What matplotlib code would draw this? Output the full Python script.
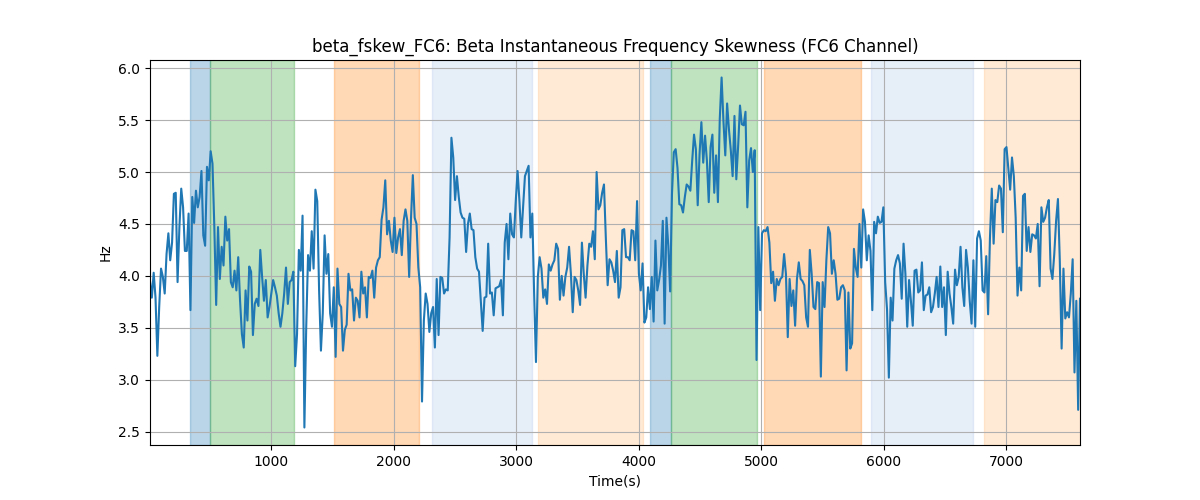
import numpy as np
import matplotlib
matplotlib.use("Agg")
import matplotlib.pyplot as plt

# valores, por tramos
seg1 = [3.95, 3.79, 4.03, 3.79, 3.23, 3.70, 4.07, 3.99, 3.83, 4.21, 4.41, 4.15, 4.32, 4.79, 4.80, 3.94,
        4.47, 4.84, 4.66, 4.24, 4.24, 4.60, 3.67, 4.76, 4.51, 4.82, 4.66, 4.76, 5.01, 4.39, 4.29, 5.05,
        4.92, 5.20, 5.08, 4.47, 3.72, 4.47, 3.97, 4.28, 4.10, 4.57, 4.34, 4.45, 3.94, 3.89, 4.05, 3.86,
        4.18, 3.76, 3.44, 3.31, 3.86, 3.57, 4.09, 4.04, 3.43, 3.73, 3.78, 3.71, 4.25, 3.99, 3.76, 3.96,
        3.60, 3.70, 3.83, 3.96, 3.89, 3.81, 3.64, 3.51]
seg2 = [3.64, 3.83, 4.08, 3.73, 3.94, 3.96, 4.04, 3.13, 3.44, 4.25, 4.05, 4.58, 2.54, 3.51, 4.20, 4.05,
        4.43, 4.07, 4.83, 4.72, 3.86, 3.28, 3.64, 4.39, 4.02, 4.21, 3.64, 3.51, 3.89, 3.22, 4.07, 3.73,
        3.70, 3.28, 3.48, 3.53, 4.02, 3.86, 3.87, 3.57, 3.79, 3.76, 3.60, 4.04, 3.83, 3.89, 3.60, 3.99,
        3.98, 4.05, 3.79, 4.08, 4.15, 4.18, 4.54, 4.66, 4.92, 4.40, 4.53, 4.34, 4.23, 4.56, 4.22, 4.37,
        4.45, 4.20, 4.53, 4.64, 4.53, 3.99, 4.55, 4.97, 4.56]
seg3 = [4.50, 4.08, 3.89, 2.79, 3.57, 3.83, 3.73, 3.46, 3.64, 3.70, 3.31, 3.97, 3.43, 3.99, 3.98, 3.83,
        3.87, 3.86, 4.37, 5.33, 5.14, 4.73, 4.96, 4.76, 4.61, 4.56, 4.55, 4.23, 4.50, 4.60, 4.45, 4.44,
        4.18, 4.07, 4.04, 3.76, 3.47, 3.79, 3.80, 4.31, 3.83, 3.84, 3.62, 3.88, 3.89, 3.90, 3.96, 3.62,
        4.32, 4.50, 4.16, 4.60, 4.40, 4.37, 4.72, 5.01, 4.72, 4.37, 4.66, 4.96, 5.01, 5.06, 4.37, 4.60,
        3.83, 3.17, 3.99, 4.18, 4.07, 3.79, 3.87, 3.73]
seg4 = [4.11, 4.05, 4.11, 4.15, 4.31, 4.26, 3.77, 4.00, 3.81, 3.99, 4.08, 4.28, 4.02, 3.65, 3.99, 3.96,
        3.86, 3.72, 4.32, 4.02, 3.79, 4.10, 4.31, 4.28, 4.43, 4.16, 5.00, 4.64, 4.68, 4.80, 4.88, 4.37,
        3.91, 4.16, 4.13, 4.05, 3.94, 4.24, 3.79, 3.89, 4.44, 4.45, 4.18, 4.18, 4.15, 4.44, 4.43, 4.15,
        4.72, 4.02, 3.86, 4.12, 3.55, 3.60, 3.89, 3.68, 3.99, 3.56, 4.34, 3.86, 3.96, 4.10, 4.53, 3.54,
        4.56, 4.29, 3.85, 4.79, 5.19, 5.22, 5.04, 4.69, 4.68, 4.61]
seg5 = [4.76, 4.88, 4.86, 4.82, 5.11, 5.36, 5.22, 4.68, 5.17, 5.48, 5.09, 5.35, 5.11, 4.71, 5.24, 5.36,
        4.80, 5.16, 4.71, 5.51, 5.91, 5.49, 5.16, 5.66, 5.41, 5.21, 4.96, 5.54, 4.93, 5.25, 5.64, 5.46,
        5.45, 5.58, 4.66, 5.11, 5.23, 5.00, 5.21, 3.19, 4.47, 3.67, 4.41, 4.44, 4.43, 4.47, 4.32, 3.93,
        4.04, 3.76, 3.97, 3.91, 3.97, 3.99, 4.21, 4.02, 3.41, 3.97, 3.71, 3.86, 3.52, 3.97, 4.13, 3.97,
        3.95, 3.91, 3.60, 3.51, 4.25, 4.02, 3.70]
seg6 = [3.68, 3.94, 3.93, 3.03, 3.94, 3.70, 4.15, 4.47, 4.41, 4.02, 4.15, 4.02, 3.77, 3.78, 3.89, 3.91,
        3.86, 3.09, 3.84, 3.30, 3.35, 4.26, 4.08, 3.99, 4.50, 4.08, 4.64, 4.52, 4.15, 4.39, 4.24, 3.67,
        4.52, 4.41, 4.57, 4.51, 4.52, 4.66, 3.94, 3.68, 3.02, 3.79, 3.57, 4.07, 4.15, 4.20, 4.12, 3.78,
        4.31, 4.02, 3.51, 3.96, 3.76, 3.52, 4.05, 4.06, 3.84, 3.86, 4.13, 3.67, 3.81, 3.82, 3.89, 3.65,
        3.70, 3.83, 3.99, 3.70, 4.09, 3.70, 3.89, 3.43, 4.04]
seg7 = [3.83, 3.70, 3.54, 4.06, 3.91, 3.99, 4.28, 3.89, 3.71, 4.25, 4.08, 3.76, 3.54, 4.15, 3.51, 4.36,
        4.43, 4.34, 3.86, 3.84, 4.19, 3.63, 4.36, 4.84, 4.31, 4.73, 4.71, 4.87, 4.84, 4.42, 5.22, 5.24,
        5.03, 4.83, 5.14, 4.96, 4.56, 3.81, 4.08, 3.86, 4.77, 4.79, 4.24, 4.47, 4.23, 4.40, 4.39, 4.36,
        4.50, 3.90, 4.66, 4.52, 4.56, 4.66, 4.73, 4.07, 3.97, 4.21, 4.53, 4.74, 4.15, 3.30, 4.07, 3.59,
        3.65, 3.60, 3.83, 4.16, 3.07, 3.76, 2.71, 3.78]

valores = np.array(seg1 + seg2 + seg3 + seg4 + seg5 + seg6 + seg7)
t_inicio = 12
t_paso = 15
tiempo = t_inicio + t_paso * np.arange(len(valores))

# intervalos sombreados (inicio, fin, color)
span_inicio = [339, 502, 1514, 2314, 3177, 4094, 4260, 5027, 5898, 6815]
span_fin = [502, 1185, 2205, 3128, 4034, 4260, 4965, 5814, 6728, 7620]
span_color = ["tab:blue", "tab:green", "tab:orange", "#aec7e8", "#ffbb78",
              "tab:blue", "tab:green", "tab:orange", "#aec7e8", "#ffbb78"]

fig, ax = plt.subplots(figsize=(12, 5), dpi=100)
for a, b, c in zip(span_inicio, span_fin, span_color):
    ax.axvspan(a, b, color=c, alpha=0.3)
ax.plot(tiempo, valores, color="tab:blue", linewidth=1.5)
ax.set_xlim(tiempo[0], tiempo[-1])
ax.set_title("beta_fskew_FC6: Beta Instantaneous Frequency Skewness (FC6 Channel)")
ax.set_xlabel("Time(s)")
ax.set_ylabel("Hz")
ax.grid(True)
fig.savefig("out.png")
